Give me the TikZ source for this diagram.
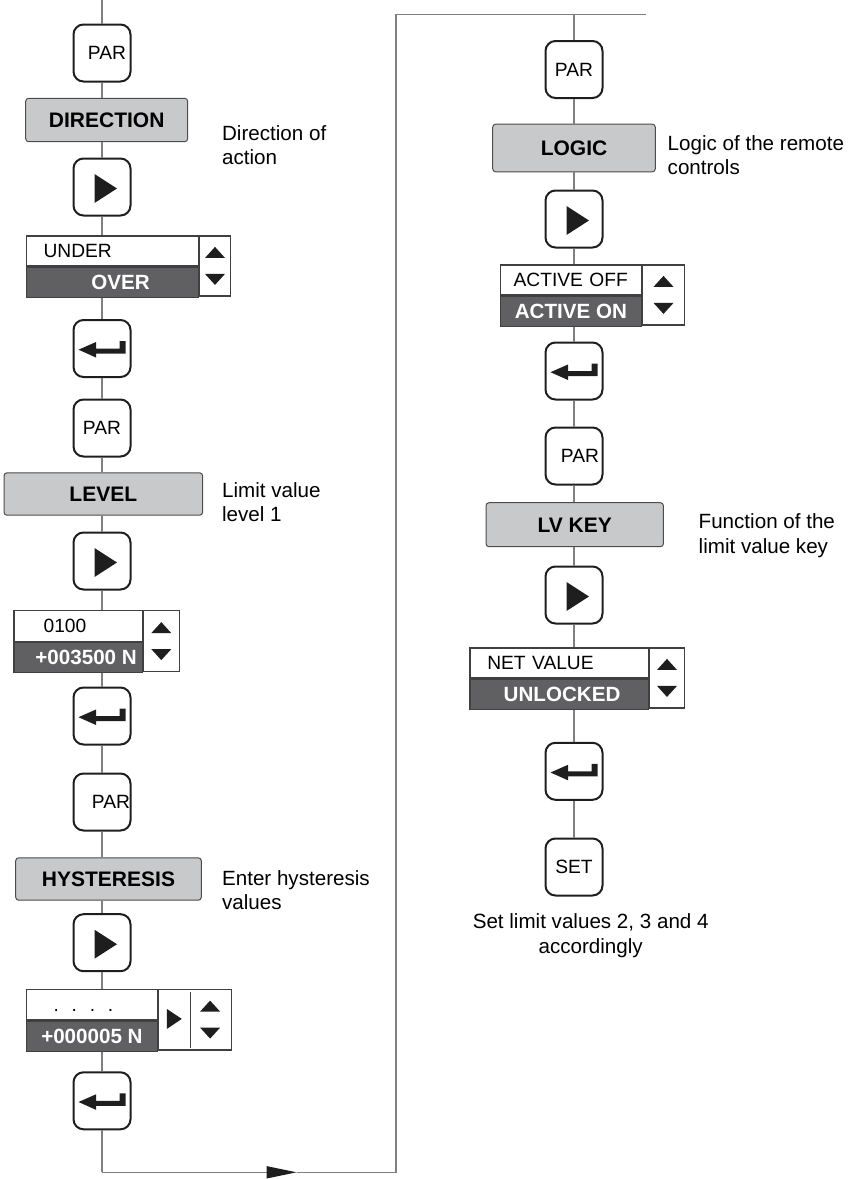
\documentclass[tikz,border=0pt]{standalone}
\usepackage{xcolor}
\usepackage{fontspec}
\setmainfont{Liberation Sans}
\usetikzlibrary{arrows.meta}

\definecolor{lblgray}{HTML}{C8C9CB}
\definecolor{darkcell}{HTML}{606062}
\definecolor{wire}{HTML}{808080}
\definecolor{ink}{HTML}{1E1E1E}

\tikzset{
  wireline/.style={draw=wire, line width=0.7pt},
  key/.style={draw=ink, line width=1pt, rounded corners=5pt, minimum width=28.5pt,
    minimum height=28.5pt, inner sep=0pt, font=\fontsize{9.6}{11}\selectfont},
  playkey/.style={key, path picture={
    \fill[ink, sharp corners] ([shift={(-7.5,-13)}]path picture bounding box.center)
      -- ++(22.5,14.5) -- ++(-22.5,14.5) -- cycle;}},
  enterkey/.style={key, path picture={
    \fill[ink, sharp corners] ([shift={(-23.5,1.2)}]path picture bounding box.center)
      -- ++(17.5,-7.7) -- ++(0,6.5) -- ++(23.5,0) -- ++(0,-7.5) -- ++(6,0)
      -- ++(0,12.5) -- ++(-29.5,0) -- ++(0,4) -- cycle;}},
  lbl/.style={draw=black!70, line width=0.5pt, fill=lblgray, rounded corners=1.5pt,
    minimum height=21.5pt, inner sep=0pt, text height=7.5pt, text depth=0pt,
    font=\bfseries\fontsize{10.5}{12}\selectfont},
  seltop/.style={draw=black!75, line width=0.6pt, fill=white, minimum height=15pt,
    inner ysep=0pt, align=left, text height=6.9pt, text depth=0pt,
    font=\fontsize{9.6}{11}\selectfont},
  selbot/.style={draw=black!75, line width=0.6pt, fill=darkcell, text=white,
    minimum height=15pt, inner sep=0pt, text height=7.4pt, text depth=0pt,
    font=\bfseries\fontsize{10.3}{12}\selectfont},
  updown/.style={draw=black!75, line width=0.6pt, fill=white, minimum height=30pt,
    inner sep=0pt, path picture={
    \fill[ink] ([shift={(#1,-19)}]path picture bounding box.center)
      -- ++(-10,11) -- ++(20,0) -- cycle;
    \fill[ink] ([shift={(#1,19)}]path picture bounding box.center)
      -- ++(-10,-11) -- ++(20,0) -- cycle;}},
  updown/.default=0,
  note/.style={inner sep=0pt, align=left, font=\fontsize{10.3}{12.2}\selectfont}
}

\begin{document}
\begin{tikzpicture}[x=0.5pt,y=-0.5pt]
    \useasboundingbox (0,0) rectangle (855,1179);

    % 回路线的端点
    \coordinate (start) at (102,0);
    \coordinate (turnA) at (102,1172.3);
    \coordinate (tip) at (296.7,1172.3);
    \coordinate (turnB) at (396,1172.3);
    \coordinate (turnC) at (396,14.7);
    \coordinate (stop) at (645.7,14.7);

    % 左列: DIRECTION
    \node[key] (par1) at (102,53) {\hspace*{5pt}PAR};
    \node[lbl, minimum width=81pt, minimum height=21.7pt] (dir) at (106.7,120) {DIRECTION};
    \node[playkey] (play1) at (102,187) {};
    \node[seltop, anchor=north west, inner xsep=8.5pt, text width=68.85pt] (under) at (26,235.3) {UNDER};
    \node[selbot, anchor=north west, minimum width=85.85pt] (over) at (under.south west) {\hspace*{8pt}OVER};
    \node[updown, anchor=north west, minimum width=15.5pt] (ud1) at (under.north east) {};
    \node[enterkey] (ent1) at (102,348.5) {};

    % 左列: LEVEL
    \node[key] (par2) at (102,428) {PAR};
    \node[lbl, minimum width=99.3pt, minimum height=21.2pt] (lev) at (103.3,494) {LEVEL};
    \node[playkey] (play2) at (102,561) {};
    \node[seltop, anchor=north west, inner xsep=14.85pt, text width=34.5pt, minimum height=15.3pt] (lvold) at (13.3,610) {0100};
    \node[selbot, anchor=north west, minimum width=64.2pt] (lvnew) at (lvold.south west) {\hspace*{8pt}+003500 N};
    \node[updown, anchor=north west, minimum width=17.8pt, minimum height=30.5pt] (ud2) at (lvold.north east) {};
    \node[enterkey] (ent2) at (102,716) {};

    % 左列: HYSTERESIS
    \node[key] (par3) at (102,802) {\hspace*{9pt}PAR};
    \node[lbl, minimum width=92.8pt, minimum height=21.2pt] (hys) at (108.5,879) {HYSTERESIS};
    \node[playkey] (play3) at (102,942.7) {};
    \node[seltop, anchor=north west, inner xsep=13.5pt, text width=38.35pt, minimum height=15.3pt] (hyold) at (26,988.7) {.\ \ .\ \ .\ \ .};
    \node[selbot, anchor=north west, minimum width=65.35pt] (hynew) at (hyold.south west) {+000005 N};
    \node[updown=15.3, anchor=north west, minimum width=36.3pt, minimum height=30.3pt] (ud3) at (hyold.north east) {};
    \fill[ink] ([shift={(-28,-10.7)}]ud3.center) -- ++(15,10) -- ++(-15,10) -- cycle;
    \draw[black!75, line width=0.6pt] ([shift={(-4.7,-28)}]ud3.center) -- ++(0,56);
    \node[enterkey] (ent3) at (102,1100.8) {};

    % 右列: LOGIC
    \node[key] (par4) at (574,69.5) {PAR};
    \node[lbl, minimum width=81.3pt, minimum height=23.8pt] (logic) at (574,148) {LOGIC};
    \node[playkey] (play4) at (574,219) {};
    \node[seltop, anchor=north west, inner xsep=6.5pt, text width=57.35pt] (actoff) at (500,264.3) {ACTIVE OFF};
    \node[selbot, anchor=north west, minimum width=70.35pt] (acton) at (actoff.south west) {ACTIVE ON};
    \node[updown, anchor=north west, minimum width=21pt] (ud4) at (actoff.north east) {};
    \node[enterkey] (ent4) at (574,371) {};

    % 右列: LV KEY
    \node[key] (par5) at (574,456) {\hspace*{6pt}PAR};
    \node[lbl, minimum width=88.7pt, minimum height=22pt] (lvkey) at (574.7,524.7) {LV KEY};
    \node[playkey] (play5) at (574,595) {};
    \node[seltop, anchor=north west, inner xsep=8.7pt, text width=71.8pt] (netval) at (469.3,647.3) {NET VALUE};
    \node[selbot, anchor=north west, minimum width=89.2pt] (unlock) at (netval.south west) {\hspace*{3pt}UNLOCKED};
    \node[updown, anchor=north west, minimum width=17.5pt] (ud5) at (netval.north east) {};
    \node[enterkey] (ent5) at (574,771.3) {};
    \node[key] (set) at (574,867) {SET};

    % 说明文字
    \node[note, anchor=north west] (ndir) at (221.7,125) {Direction of\\action};
    \node[note, anchor=north west] (nlev) at (221.7,481.7) {Limit value\\level 1};
    \node[note, anchor=north west] (nhys) at (221.7,870) {Enter hysteresis\\values};
    \node[note, anchor=north west] (nlogic) at (667.3,135) {Logic of the remote\\controls};
    \node[note, anchor=north west] (nlvkey) at (698.3,513.3) {Function of the\\limit value key};
    \node[note, anchor=north, align=center] (nset) at (590.7,913.3) {Set limit values 2, 3 and 4\\accordingly};

    % 左列连线
    \draw[wireline] (start) -- (par1);
    \draw[wireline] (par1) -- (par1 |- dir.north);
    \draw[wireline] (play1 |- dir.south) -- (play1);
    \draw[wireline] (play1) -- (play1 |- under.north);
    \draw[wireline] (ent1 |- over.south) -- (ent1);
    \draw[wireline] (ent1) -- (par2);
    \draw[wireline] (par2) -- (par2 |- lev.north);
    \draw[wireline] (play2 |- lev.south) -- (play2);
    \draw[wireline] (play2) -- (play2 |- lvold.north);
    \draw[wireline] (ent2 |- lvnew.south) -- (ent2);
    \draw[wireline] (ent2) -- (par3);
    \draw[wireline] (par3) -- (par3 |- hys.north);
    \draw[wireline] (play3 |- hys.south) -- (play3);
    \draw[wireline] (play3) -- (play3 |- hyold.north);
    \draw[wireline] (ent3 |- hynew.south) -- (ent3);

    % 回路
    \draw[wireline] (ent3) -- (turnA);
    \draw[wireline, -{Triangle[length=15pt, width=6pt, color=ink]}] (turnA) -- (tip);
    \draw[wireline] (tip) -- (turnB) -- (turnC) -- (stop);

    % 右列连线
    \draw[wireline] (par4 |- stop) -- (par4);
    \draw[wireline] (par4) -- (par4 |- logic.north);
    \draw[wireline] (play4 |- logic.south) -- (play4);
    \draw[wireline] (play4) -- (play4 |- actoff.north);
    \draw[wireline] (ent4 |- acton.south) -- (ent4);
    \draw[wireline] (ent4) -- (par5);
    \draw[wireline] (par5) -- (par5 |- lvkey.north);
    \draw[wireline] (play5 |- lvkey.south) -- (play5);
    \draw[wireline] (play5) -- (play5 |- netval.north);
    \draw[wireline] (ent5 |- unlock.south) -- (ent5);
    \draw[wireline] (ent5) -- (set);

\end{tikzpicture}
\end{document}
